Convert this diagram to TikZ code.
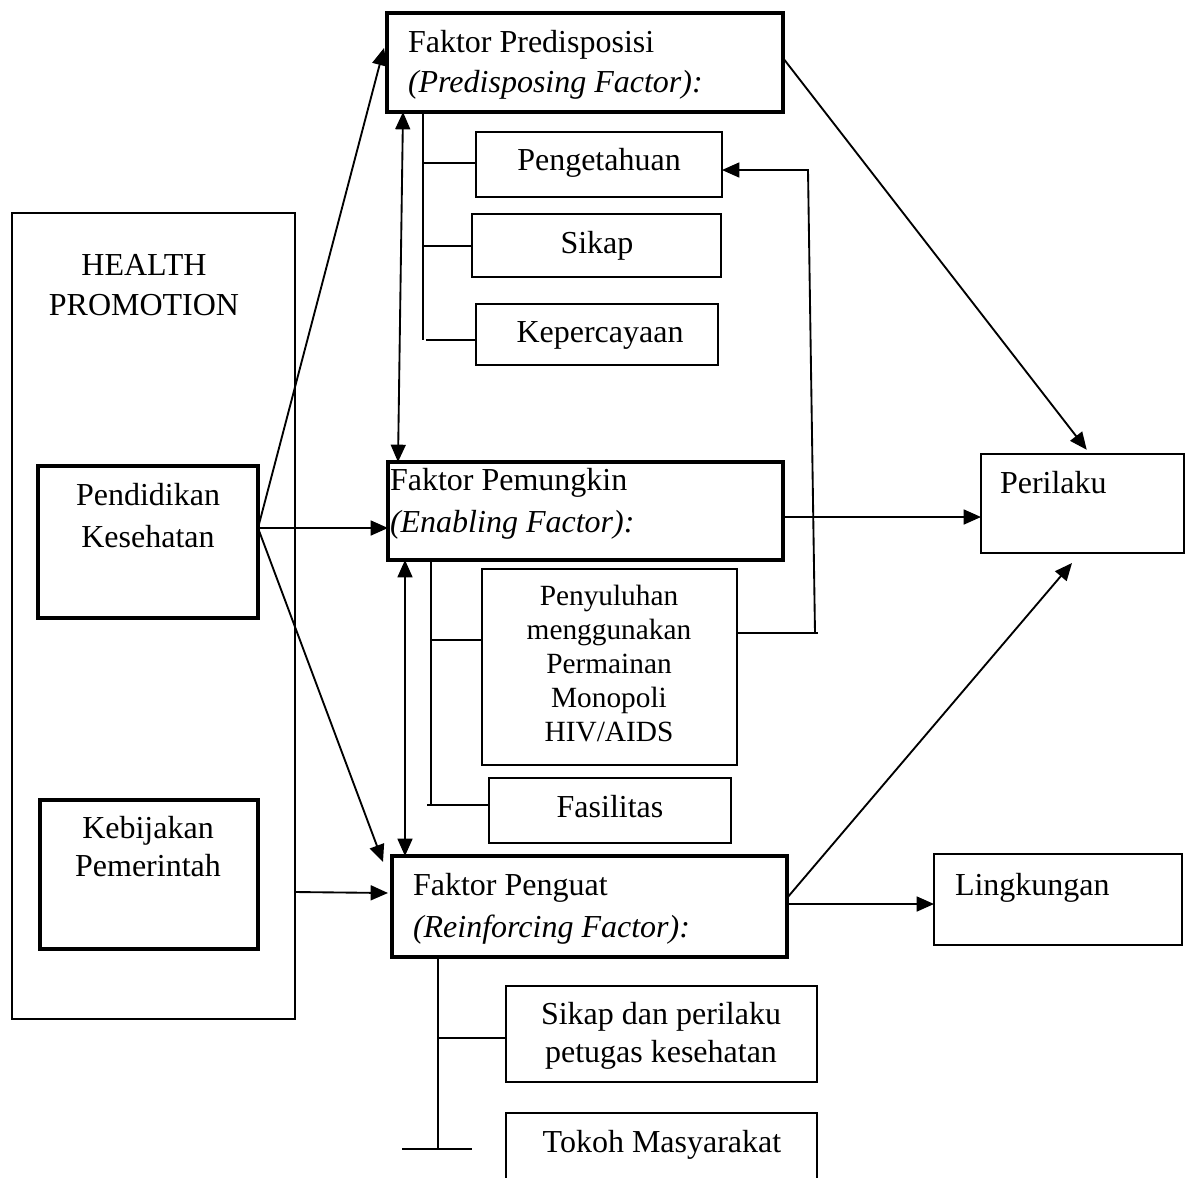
\documentclass[tikz,border=0pt]{standalone}
\usepackage{fontspec}
\setmainfont{Liberation Serif}
\usetikzlibrary{arrows.meta,positioning,fit,calc}
\tikzset{
  thinbox/.style={draw, line width=0.6pt, inner sep=0pt, outer sep=0pt},
  thickbox/.style={draw, line width=1.5pt, inner sep=0pt, outer sep=0pt},
  txt/.style={inner sep=0pt, outer sep=0pt, font=\fontsize{12}{15}\selectfont},
  conn/.style={line width=0.7pt},
  arr/.style={line width=0.7pt, -{Triangle[length=6.5pt,width=5.6pt]}},
  barr/.style={line width=0.7pt, {Triangle[length=6.5pt,width=5.6pt]}-{Triangle[length=6.5pt,width=5.6pt]}}
}
\begin{document}
\begin{tikzpicture}[x=0.375pt,y=-0.375pt]
\clip (0,0) rectangle (1186,1177);
\fill[white] (0,0) rectangle (1186,1177);
% boxes
\node[thinbox, fit={(12,213)(295,1019)}] (hp) {};
\node[thickbox, fit={(38,466)(258,618)}] (pend) {};
\node[thickbox, fit={(40,800)(258,949)}] (keb) {};
\node[thickbox, fit={(387,13)(783,112)}] (pred) {};
\node[thinbox, fit={(476,132)(722,197)}] (pengt) {};
\node[thinbox, fit={(472,214)(721,277)}] (sikap) {};
\node[thinbox, fit={(476,304)(718,365)}] (kep) {};
\node[thickbox, fit={(388,462)(783,560)}] (pem) {};
\node[thinbox, fit={(482,569)(737,765)}] (peny) {};
\node[thinbox, fit={(489,778)(731,843)}] (fas) {};
\node[thickbox, fit={(392,856)(787,957)}] (peng) {};
\node[thinbox, fit={(506,986)(817,1082)}] (sdp) {};
\node[thinbox, fit={(506,1113)(817,1200)}] (tokoh) {};
\node[thinbox, fit={(981,454)(1184,553)}] (peril) {};
\node[thinbox, fit={(934,854)(1182,945)}] (ling) {};
% texts (multi-line nodes: base = baseline of last line)
\node[txt, anchor=base, align=center, font=\fontsize{12}{15}\selectfont] (hpT) at (144,315) {HEALTH\\PROMOTION};
\node[txt, anchor=base, align=center, font=\fontsize{12}{15.75}\selectfont] (pendT) at (148,547) {Pendidikan\\Kesehatan};
\node[txt, anchor=base, align=center, font=\fontsize{12}{13.9}\selectfont] (kebT) at (148,876) {Kebijakan\\Pemerintah};
\node[txt, anchor=base west, align=left, font=\fontsize{12}{15}\selectfont] (predT) at (408,92) {Faktor Predisposisi\\\textit{(Predisposing Factor):}};
\node[txt, anchor=base west, align=left, font=\fontsize{12}{15.75}\selectfont] (pemT) at (390,532) {Faktor Pemungkin\\\textit{(Enabling Factor):}};
\node[txt, anchor=base west, align=left, font=\fontsize{12}{15.75}\selectfont] (pengT) at (413,937) {Faktor Penguat\\\textit{(Reinforcing Factor):}};
\node[txt, anchor=base] (pengtT) at (599,170) {Pengetahuan};
\node[txt, anchor=base] (sikapT) at (597,253) {Sikap};
\node[txt, anchor=base] (kepT) at (600,342) {Kepercayaan};
\node[txt, anchor=base, align=center, font=\fontsize{11}{12.66}\selectfont] (penyT) at (609,741) {Penyuluhan\\menggunakan\\Permainan\\Monopoli\\HIV/AIDS};
\node[txt, anchor=base] (fasT) at (610,817) {Fasilitas};
\node[txt, anchor=base, align=center, font=\fontsize{12}{13.9}\selectfont] (sdpT) at (661,1062) {Sikap dan perilaku\\petugas kesehatan};
\node[txt, anchor=base] (tokohT) at (662,1152) {Tokoh Masyarakat};
\node[txt, anchor=base west] (perilT) at (1000,493) {Perilaku};
\node[txt, anchor=base west] (lingT) at (955,895) {Lingkungan};
% connectors from Pendidikan / HP
\draw[arr] (pend.east |- 0,528) -- ($(pred.west |- 0,48)+(-3,0)$);
\draw[arr] (pend.east |- 0,528) -- (pem.west |- 0,528);
\draw[arr] (pend.east |- 0,528) -- ($(peng.north west)+(-9,6)$);
\draw[arr] (hp.east |- 0,892) -- ($(peng.west |- 0,893)+(-4,0)$);
% bidirectional
\draw[barr] (pred.south -| 403,0) -- (pem.north -| 398,0);
\draw[barr] (pem.south -| 405,0) -- (peng.north -| 405,0);
% trees
\draw[conn] (pred.south -| 423,0) -- (423,340);
\draw[conn] (423,163) -- (pengt.west |- 0,163);
\draw[conn] (423,246) -- (sikap.west |- 0,246);
\draw[conn] (426,340) -- (kep.west |- 0,340);
\draw[conn] (pem.south -| 431,0) -- (431,805);
\draw[conn] (431,640) -- (peny.west |- 0,640);
\draw[conn] (427,805) -- (fas.west |- 0,805);
\draw[conn] (peng.south -| 438,0) -- (438,1149);
\draw[conn] (438,1038) -- (sdp.west |- 0,1038);
\coordinate (tb) at (438,1149);
\draw[conn] ($(tb)+(-36,0)$) -- ($(tb)+(34,0)$);
% feedback
\coordinate (fbB) at (815,633);
\coordinate (fbT) at (808,170);
\draw[conn] (peny.east |- fbB) -- ($(fbB)+(3,0)$);
\draw[arr] (fbB) -- (fbT) -- (pengt.east |- fbT);
% to right side
\draw[arr, shorten >=2pt] (pred.east |- 0,58) -- (peril.north -| 1090,0);
\draw[arr] (pem.east |- 0,517) -- (peril.west |- 0,517);
\draw[arr] (peng.east |- 0,898) -- ($(peril.south west)+(91,10)$);
\draw[arr] (peng.east |- 0,904) -- (ling.west |- 0,904);
\end{tikzpicture}
\end{document}
